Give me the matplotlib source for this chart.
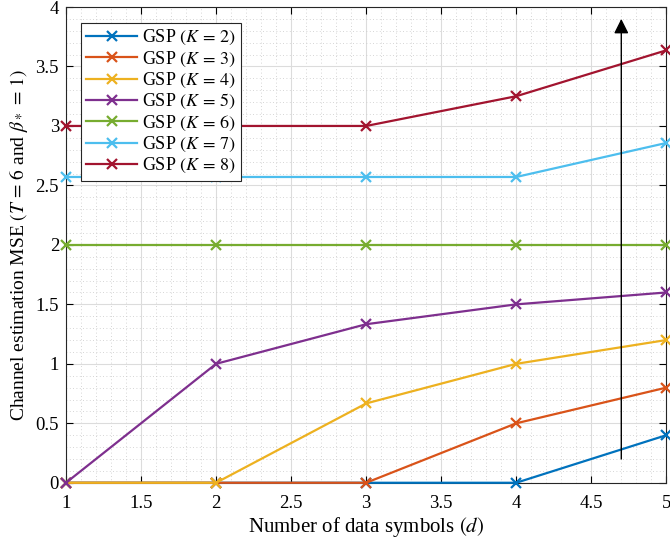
import numpy as np
import matplotlib.pyplot as plt
from matplotlib.ticker import MultipleLocator

plt.rcParams['font.family'] = ['Liberation Serif', 'DejaVu Serif']
plt.rcParams['mathtext.fontset'] = 'stix'

# number of data symbols
d = [1, 2, 3, 4, 5]

# channel estimation MSE for each K
mse_k2 = [0, 0, 0, 0, 0.4]
mse_k3 = [0, 0, 0, 0.5, 0.8]
mse_k4 = [0, 0, 0.667, 1.0, 1.2]
mse_k5 = [0, 1.0, 1.333, 1.5, 1.6]
mse_k6 = [2, 2, 2, 2, 2]
mse_k7 = [2.571, 2.571, 2.571, 2.571, 2.857]
mse_k8 = [3, 3, 3, 3.25, 3.636]

k_values = [2, 3, 4, 5, 6, 7, 8]
colors = ['#0072BD', '#D95319', '#EDB120', '#7E2F8E', '#77AC30', '#4DBEEE', '#A2142F']
series = [mse_k2, mse_k3, mse_k4, mse_k5, mse_k6, mse_k7, mse_k8]

x_ticks = [1, 1.5, 2, 2.5, 3, 3.5, 4, 4.5, 5]
x_tick_labels = ['1', '1.5', '2', '2.5', '3', '3.5', '4', '4.5', '5']
y_ticks = [0, 0.5, 1, 1.5, 2, 2.5, 3, 3.5, 4]
y_tick_labels = ['0', '0.5', '1', '1.5', '2', '2.5', '3', '3.5', '4']

fig = plt.figure(figsize=(6.7, 5.4), dpi=100)
ax = fig.add_axes([0.0985, 0.106, 0.896, 0.881])

for k, y, c in zip(k_values, series, colors):
    ax.plot(d, y, color=c, lw=1.6, marker='x', ms=7, mew=1.6,
            label=r'GSP $(K\,=\,%d)$' % k, clip_on=False, zorder=3)

# trend arrow
ax.annotate('', xy=(4.7, 3.9), xytext=(4.7, 0.2),
            arrowprops=dict(arrowstyle='-|>', color='black', lw=1.0,
                            mutation_scale=22, shrinkA=0, shrinkB=0))

ax.set_xlim(1, 5)
ax.set_ylim(0, 4)
ax.set_xticks(x_ticks)
ax.set_xticklabels(x_tick_labels)
ax.set_yticks(y_ticks)
ax.set_yticklabels(y_tick_labels)
ax.xaxis.set_minor_locator(MultipleLocator(0.1))
ax.yaxis.set_minor_locator(MultipleLocator(0.1))
ax.grid(True, which='major', color='#dcdcdc', lw=0.8)
ax.grid(True, which='minor', color='#c8c8c8', lw=0.6, ls=(0, (1, 3)))
ax.tick_params(which='both', direction='in', top=True, right=True, labelsize=13.5)
ax.tick_params(which='minor', length=0)
ax.tick_params(which='major', length=5, width=0.8)
ax.tick_params(axis='x', pad=9)
ax.tick_params(axis='y', pad=5)
for s in ax.spines.values():
    s.set_color('#262626')
    s.set_linewidth(0.8)
ax.set_axisbelow(True)

ax.set_xlabel(r'Number of data symbols $(d)$', fontsize=15, labelpad=2)
ax.set_ylabel(r'Channel estimation MSE $(T\,=\,6$ and $\beta_*\,=\,1)$', fontsize=14, labelpad=4)

leg = ax.legend(loc='upper left', bbox_to_anchor=(0.025, 0.967), fontsize=13,
                fancybox=False, framealpha=1, edgecolor='#262626',
                handlelength=2.8, handletextpad=0.3, labelspacing=0.12,
                borderpad=0.3, borderaxespad=0)
leg.get_frame().set_linewidth(0.8)

fig.savefig('out.png', dpi=100)
